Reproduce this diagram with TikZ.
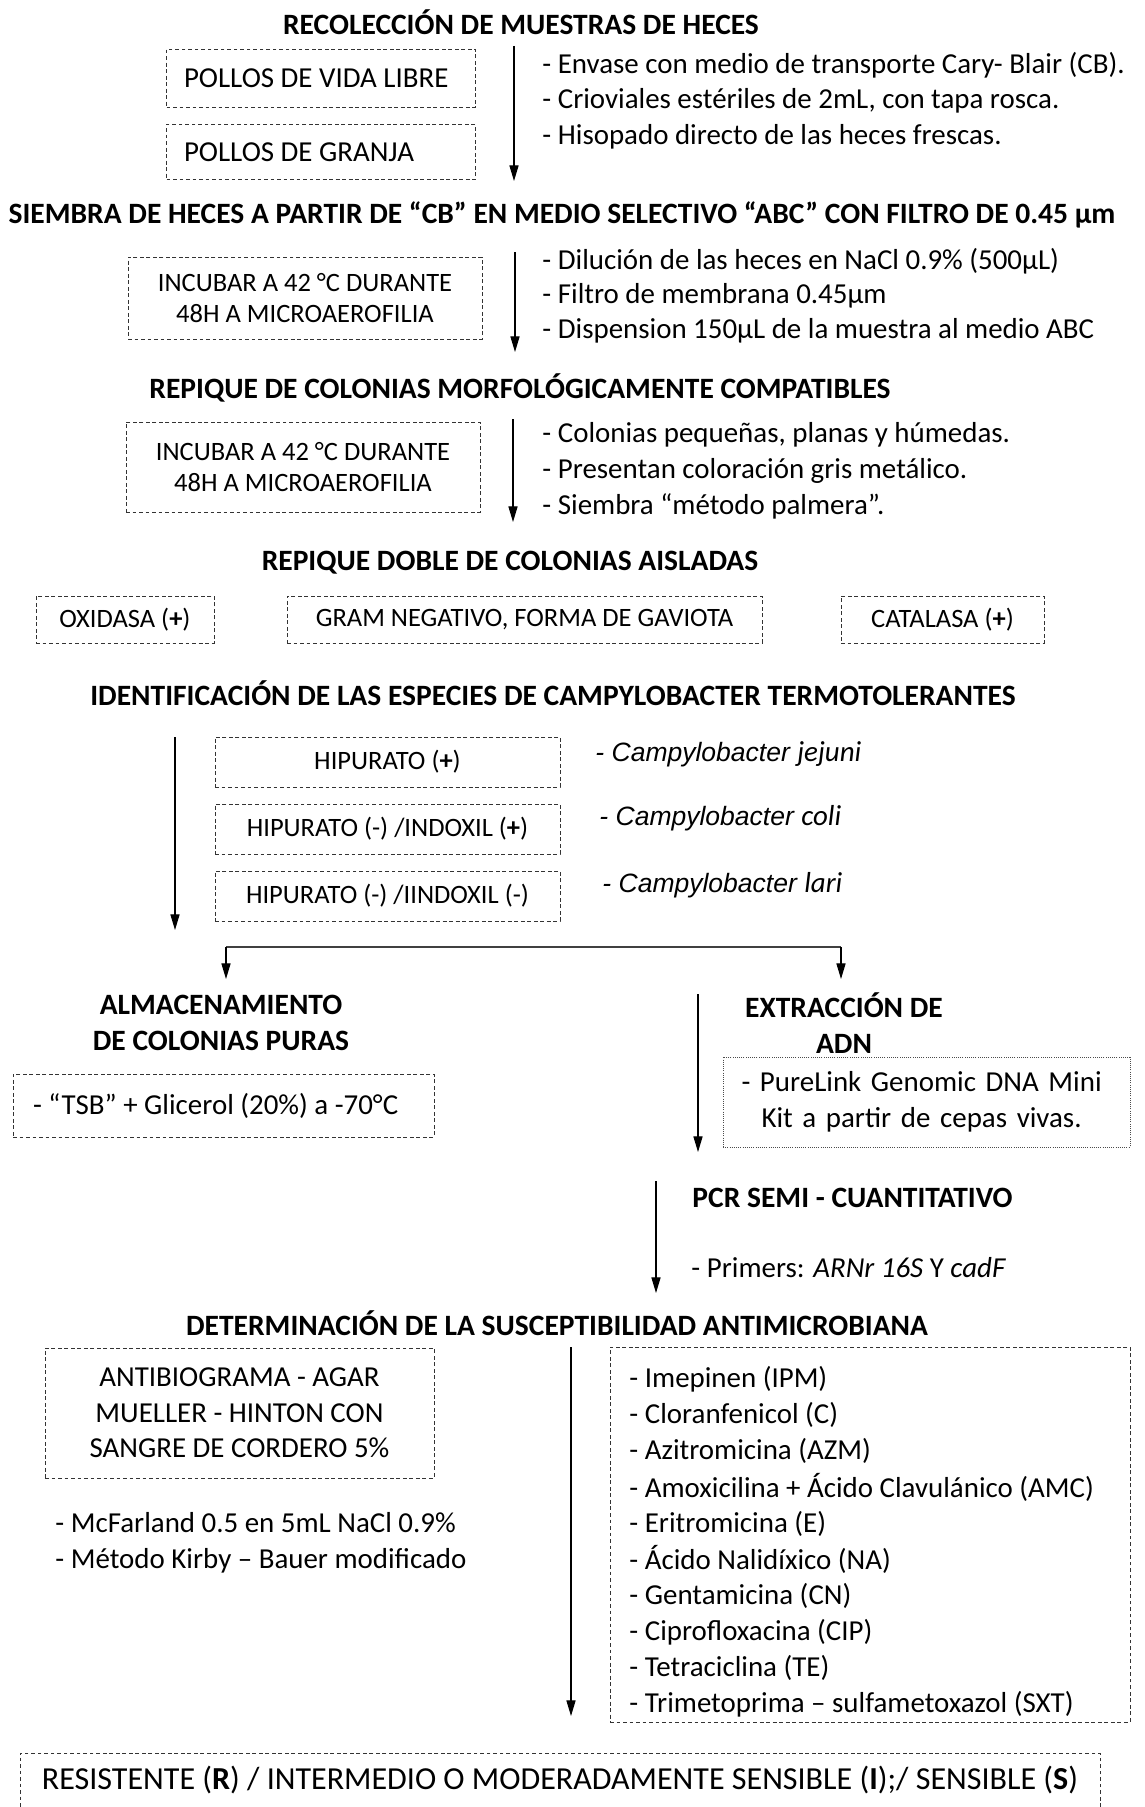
\documentclass[tikz,border=0pt]{standalone}
\usepackage{fontspec}
\setmainfont{Carlito}
\newfontfamily\arialfont{Liberation Sans}
\usetikzlibrary{arrows.meta}
\newdimen\pxu
\pxu=0.415pt
\newcommand{\txtbody}{\fontsize{12}{14.7}\selectfont}
\newcommand{\txtbox}{\fontsize{11}{13.1}\selectfont}

\begin{document}
\begin{tikzpicture}[x=\pxu, y=-\pxu,
		heading/.style={font=\fontsize{12.25}{15.2}\selectfont\bfseries, inner sep=0pt},
		note/.style={anchor=west, inner sep=0pt, font=\txtbody, align=left},
		dashbox/.style={draw=black!80, line width=0.4pt, dash pattern=on 1.6pt off 1.1pt, inner sep=0pt},
		dotbox/.style={draw=black!70, line width=0.4pt, dash pattern=on 0.4pt off 0.5pt, inner sep=0pt},
		flow/.style={-{Triangle[length=6.5pt,width=3.8pt]}, line width=0.45pt},
		species/.style={anchor=west, inner sep=0pt, font=\arialfont\itshape\fontsize{11}{13}\selectfont}
	]
		\useasboundingbox (0,0) rectangle (1145,1807);

		\node [heading] (t-recol) at (521,22) {RECOLECCIÓN DE MUESTRAS DE HECES};
		\node [dashbox, minimum width=309\pxu, minimum height=58\pxu, font=\txtbody] (libre) at (321,78) {\makebox[274\pxu][l]{POLLOS DE VIDA LIBRE}};
		\node [dashbox, minimum width=309\pxu, minimum height=55\pxu, font=\txtbody] (granja) at (321,152) {\makebox[274\pxu][l]{POLLOS DE GRANJA}};
		\coordinate (a1-top) at (514,46);
		\coordinate (a1-end) at (514,181);
		\draw [flow] (a1-top) -- (a1-end);
		\foreach \t [count=\i] in {{- Envase con medio de transporte Cary- Blair (CB).}, {- Crioviales estériles de 2mL, con tapa rosca.}, {- Hisopado directo de las heces frescas.}} {
			\node [note] (recol-\i) at (542,{29.5+35.8*\i}) {\t};
		};

		\node [heading] (t-siembra) at (562,215) {SIEMBRA DE HECES A PARTIR DE “CB” EN MEDIO SELECTIVO “ABC” CON FILTRO DE 0.45 µm};
		\node [dashbox, minimum width=354\pxu, minimum height=82\pxu, align=center, font=\txtbox] (incub-1) at (305,298) {INCUBAR A 42 °C DURANTE\\48H A MICROAEROFILIA};
		\coordinate (a2-top) at (515,252);
		\coordinate (a2-end) at (515,352);
		\draw [flow] (a2-top) -- (a2-end);
		\foreach \t [count=\i] in {{- Dilución de las heces en NaCl 0.9\% (500µL)}, {- Filtro de membrana 0.45µm}, {- Dispension 150µL de la muestra al medio ABC}} {
			\node [note] (siembra-\i) at (542,{226+35*\i}) {\t};
		};

		\node [heading] (t-repique) at (520,388) {REPIQUE DE COLONIAS MORFOLÓGICAMENTE COMPATIBLES};
		\node [dashbox, minimum width=354\pxu, minimum height=90\pxu, align=center, font=\txtbox] (incub-2) at (303,467) {INCUBAR A 42 °C DURANTE\\48H A MICROAEROFILIA};
		\coordinate (a3-top) at (513,419);
		\coordinate (a3-end) at (513,522);
		\draw [flow] (a3-top) -- (a3-end);
		\foreach \t [count=\i] in {{- Colonias pequeñas, planas y húmedas.}, {- Presentan coloración gris metálico.}, {- Siembra “método palmera”.}} {
			\node [note] (repique-\i) at (542,{399.5+35.5*\i}) {\t};
		};

		\node [heading] (t-doble) at (510,563) {REPIQUE DOBLE DE COLONIAS AISLADAS};
		\node [dashbox, minimum width=178\pxu, minimum height=47\pxu, font=\txtbox] (oxidasa) at (125,619.5) {OXIDASA (\textbf{+})};
		\node [dashbox, minimum width=475\pxu, minimum height=47\pxu, font=\txtbox] (gram) at (524.5,619.5) {GRAM NEGATIVO, FORMA DE GAVIOTA};
		\node [dashbox, minimum width=203\pxu, minimum height=47\pxu, font=\txtbox] (catalasa) at (942.5,619.5) {CATALASA (\textbf{+})};

		\node [heading] (t-ident) at (553,693) {IDENTIFICACIÓN DE LAS ESPECIES DE CAMPYLOBACTER TERMOTOLERANTES};
		\coordinate (a5-top) at (175,737);
		\coordinate (a5-end) at (175,930);
		\draw [flow] (a5-top) -- (a5-end);
		\node [dashbox, minimum width=345\pxu, minimum height=50\pxu, font=\txtbox] (hip-1) at (387.5,762) {HIPURATO (\textbf{+})};
		\node [dashbox, minimum width=345\pxu, minimum height=50\pxu, font=\txtbox] (hip-2) at (387.5,829) {HIPURATO (-) /INDOXIL (\textbf{+})};
		\node [dashbox, minimum width=345\pxu, minimum height=50\pxu, font=\txtbox] (hip-3) at (387.5,896) {HIPURATO (-) /IINDOXIL (-)};
		\foreach \sp/\x/\y [count=\i] in {jejuni/595/754, coli/599/818, lari/602/885} {
			\node [species] (camp-\i) at (\x,\y) {- Campylobacter {\fontspec{Carlito}\fontsize{12}{14}\selectfont\itshape\sp}};
		};

		\coordinate (br-l) at (226,947);
		\coordinate (br-r) at (841,947);
		\coordinate (alm-in) at (226,979);
		\coordinate (ext-in) at (841,979);
		\draw [line width=0.8pt, black!75] (br-l) -- (br-r);
		\draw [flow] (br-l) -- (alm-in);
		\draw [flow] (br-r) -- (ext-in);

		\node [heading, align=center] (alm) at (221,1023) {ALMACENAMIENTO\\DE COLONIAS PURAS};
		\node [dashbox, minimum width=421\pxu, minimum height=63\pxu, font=\txtbody] (tsb) at (223.5,1105.5) {\makebox[381\pxu][l]{- “TSB” + Glicerol (20\%) a -70°C}};

		\node [heading, align=center] (ext) at (844,1023) {EXTRACCIÓN DE\\ADN};
		\coordinate (a6-top) at (698,994);
		\coordinate (a6-end) at (698,1152);
		\draw [flow] (a6-top) -- (a6-end);
		\node [dotbox, minimum width=407\pxu, minimum height=90\pxu, text width=370\pxu, align=left, font=\fontsize{12}{15}\selectfont] (kit) at (926.5,1102) {\makebox[370\pxu][s]{- PureLink Genomic DNA Mini}\\\hspace*{20\pxu}Kit a partir de cepas vivas.};

		\node [heading, anchor=west] (pcr) at (692,1198) {PCR SEMI - CUANTITATIVO};
		\coordinate (a7-top) at (656,1181);
		\coordinate (a7-end) at (656,1293);
		\draw [flow] (a7-top) -- (a7-end);
		\node [note] (primers) at (691,1268) {- Primers: \textit{ARNr 16S} Y \textit{cadF}};

		\node [heading] (t-det) at (557,1323) {DETERMINACIÓN DE LA SUSCEPTIBILIDAD ANTIMICROBIANA};
		\node [dashbox, minimum width=389\pxu, minimum height=130\pxu, align=center, font=\txtbody] (agar) at (239.5,1413) {ANTIBIOGRAMA - AGAR\\MUELLER - HINTON CON\\SANGRE DE CORDERO 5\%};
		\node [note, font=\fontsize{12}{15}\selectfont] (mcf) at (55,1543) {- McFarland 0.5 en 5mL NaCl 0.9\%\\- Método Kirby – Bauer modificado};
		\coordinate (a8-top) at (571,1347);
		\coordinate (a8-end) at (571,1716);
		\draw [flow] (a8-top) -- (a8-end);
		\node [dashbox, minimum width=520\pxu, minimum height=375\pxu] (abx) at (870,1534.5) {};
		\foreach \d [count=\i] in {{- Imepinen (IPM)}, {- Cloranfenicol (C)}, {- Azitromicina (AZM)}, {- Amoxicilina + Ácido Clavulánico (AMC)}, {- Eritromicina (E)}, {- Ácido Nalidíxico (NA)}, {- Gentamicina (CN)}, {- Ciprofloxacina (CIP)}, {- Tetraciclina (TE)}, {- Trimetoprima – sulfametoxazol (SXT)}} {
			\node [note] (abx-\i) at (629,{1343+36.1*\i}) {\d};
		};

		\node [dashbox, minimum width=1080\pxu, minimum height=54\pxu, font=\fontsize{13.3}{16}\selectfont] (result) at (560,1780) {RESISTENTE (\textbf{R}) / INTERMEDIO O MODERADAMENTE SENSIBLE (\textbf{I});/ SENSIBLE (\textbf{S})};
	\end{tikzpicture}
\end{document}
